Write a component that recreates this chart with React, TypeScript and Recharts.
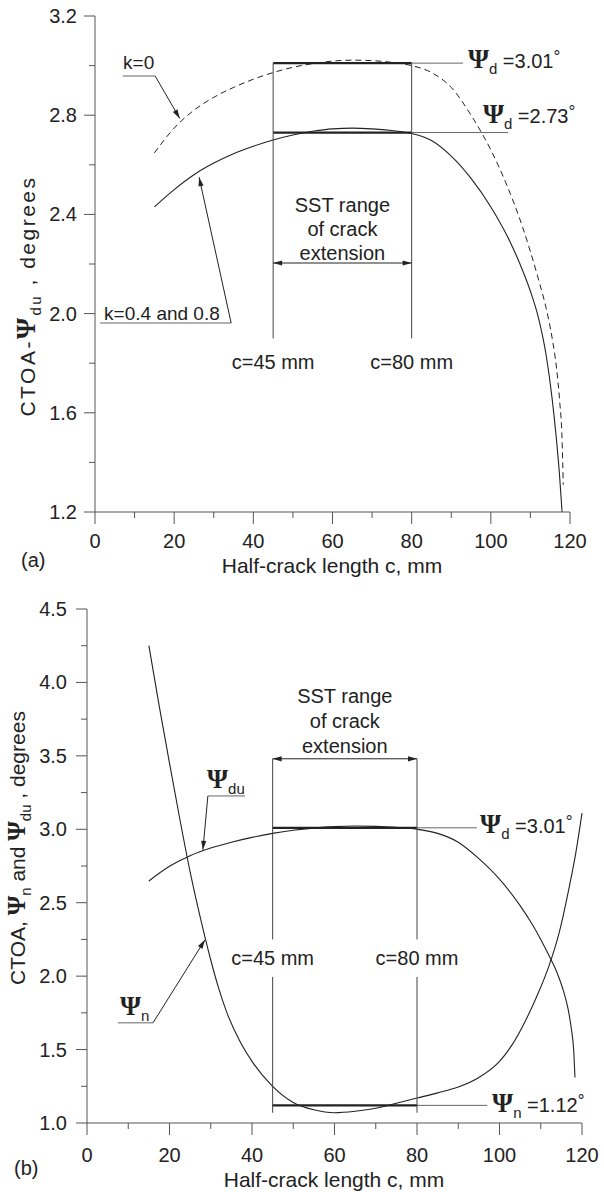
import React from "react";
import { LineChart, Line, XAxis, YAxis, ReferenceLine, ReferenceDot } from "recharts";

// ─── data ─────────────────────────────────────────────────────────────────────

// (a) k = 0.4 and 0.8 (solid)
const cK04 = [15, 20, 25, 30, 35, 40, 45, 50, 55, 60, 65, 70, 75, 80, 85, 90, 95, 100, 105, 108, 110, 112, 114, 115.5, 116.5, 117.3, 118];
const psiK04 = [2.43, 2.5, 2.56, 2.607, 2.645, 2.675, 2.7, 2.72, 2.735, 2.745, 2.748, 2.745, 2.738, 2.726, 2.698, 2.635, 2.545, 2.43, 2.285, 2.175, 2.09, 1.985, 1.83, 1.655, 1.505, 1.36, 1.2];

// k = 0 curve, also psi_du in (b)
const cDu = [15, 20, 25, 30, 35, 40, 45, 50, 55, 60, 65, 70, 75, 80, 85, 90, 95, 100, 105, 108, 110, 112, 114, 115.5, 116.6, 117.4, 118, 118.3];
const psiDu = [2.648, 2.748, 2.82, 2.872, 2.912, 2.945, 2.972, 2.993, 3.008, 3.018, 3.022, 3.02, 3.013, 3.0, 2.972, 2.912, 2.8, 2.66, 2.48, 2.35, 2.25, 2.14, 2.02, 1.9, 1.78, 1.645, 1.49, 1.31];

// (b) psi_n
const cN = [15, 17.5, 20, 22.5, 25, 27.5, 30, 32, 34, 37, 40, 45, 50, 55, 60, 65, 70, 75, 80, 85, 90, 95, 100, 103, 106, 109, 112, 114.5, 117, 118.5, 120];
const psiN = [4.25, 3.84, 3.45, 3.07, 2.71, 2.395, 2.11, 1.91, 1.745, 1.56, 1.42, 1.25, 1.14, 1.09, 1.07, 1.08, 1.1, 1.135, 1.17, 1.205, 1.245, 1.31, 1.42, 1.53, 1.68, 1.86, 2.07, 2.3, 2.62, 2.84, 3.11];

const xTicks = [0, 10, 20, 30, 40, 50, 60, 70, 80, 90, 100, 110, 120];
const xMajor = [0, 20, 40, 60, 80, 100, 120];
const yTicksA = [1.2, 1.4, 1.6, 1.8, 2.0, 2.2, 2.4, 2.6, 2.8, 3.0, 3.2];
const yMajorA = [1.2, 1.6, 2.0, 2.4, 2.8, 3.2];
const yTicksB = [1.0, 1.25, 1.5, 1.75, 2.0, 2.25, 2.5, 2.75, 3.0, 3.25, 3.5, 3.75, 4.0, 4.25, 4.5];
const yMajorB = [1.0, 1.5, 2.0, 2.5, 3.0, 3.5, 4.0, 4.5];

const rows = (cs: number[], vs: number[]) => cs.map((c, i) => ({ c, v: vs[i] }));

// ─── style ────────────────────────────────────────────────────────────────────

const FONT = '"Liberation Sans", Arial, sans-serif';
const PSI_FONT = '"Liberation Serif", "DejaVu Serif", serif';
const INK = "#222";
const FRAME = "#555";

// ─── ticks ────────────────────────────────────────────────────────────────────

const isIn = (list: number[], v: number) => list.some((m) => Math.abs(m - v) < 1e-6);

const bottomTick = (labelDy: number) => (p: any) => {
  const v = p.payload.value as number;
  const major = isIn(xMajor, v);
  return (
    <g>
      <line x1={p.x} x2={p.x} y1={p.y} y2={p.y + (major ? 12 : 6)} stroke={FRAME} />
      {major && (
        <text x={p.x} y={p.y + labelDy} textAnchor="middle" fontSize={20} fontFamily={FONT} fill={INK}>
          {v}
        </text>
      )}
    </g>
  );
};

const leftTick = (majors: number[], gap: number) => (p: any) => {
  const v = p.payload.value as number;
  const major = isIn(majors, v);
  return (
    <g>
      <line x1={p.x - (major ? 11 : 6)} x2={p.x} y1={p.y} y2={p.y} stroke={FRAME} />
      {major && (
        <text x={p.x - gap} y={p.y + 7} textAnchor="end" fontSize={20} fontFamily={FONT} fill={INK}>
          {v.toFixed(1)}
        </text>
      )}
    </g>
  );
};

const topTick = (p: any) => <line x1={p.x} x2={p.x} y1={p.y} y2={p.y - 3} stroke={FRAME} />;
const rightTick = (p: any) => <line x1={p.x} x2={p.x + 3} y1={p.y} y2={p.y} stroke={FRAME} />;

// ─── annotation helpers ──────────────────────────────────────────────────────

type Pt = [number, number];
type SegOpts = { w?: number; color?: string; arrow?: "end" | "both" };

function arrowHead(tx: number, ty: number, fx: number, fy: number, color: string) {
  const dx = tx - fx;
  const dy = ty - fy;
  const L = Math.hypot(dx, dy) || 1;
  const ux = dx / L;
  const uy = dy / L;
  const len = 9;
  const hw = 2.6;
  const bx = tx - ux * len;
  const by = ty - uy * len;
  return (
    <path
      d={`M${tx},${ty} L${bx - uy * hw},${by + ux * hw} L${bx + uy * hw},${by - ux * hw} Z`}
      fill={color}
    />
  );
}

function seg(key: string, a: Pt, b: Pt, o: SegOpts = {}) {
  const color = o.color ?? INK;
  return (
    <ReferenceLine
      key={key}
      segment={[
        { x: a[0], y: a[1] },
        { x: b[0], y: b[1] },
      ]}
      ifOverflow="visible"
      shape={(p: any) => (
        <g>
          <line x1={p.x1} y1={p.y1} x2={p.x2} y2={p.y2} stroke={color} strokeWidth={o.w ?? 1} />
          {o.arrow ? arrowHead(p.x2, p.y2, p.x1, p.y1, color) : null}
          {o.arrow === "both" ? arrowHead(p.x1, p.y1, p.x2, p.y2, color) : null}
        </g>
      )}
    />
  );
}

function note(key: string, at: Pt, render: (x: number, y: number) => React.ReactElement) {
  return (
    <ReferenceDot
      key={key}
      x={at[0]}
      y={at[1]}
      r={0}
      ifOverflow="visible"
      shape={(p: any) => render(p.cx, p.cy)}
    />
  );
}

function Psi({ x, y, sub, value }: { x: number; y: number; sub: string; value?: string }) {
  return (
    <text x={x} y={y} fontFamily={FONT} fontSize={20} fill={INK}>
      <tspan fontFamily={PSI_FONT} fontWeight="bold" fontSize={27}>
        Ψ
      </tspan>
      <tspan fontSize={15} dy={6}>
        {sub}
      </tspan>
      {value ? <tspan dy={-6}>{` =${value}`}</tspan> : null}
      {value ? (
        <tspan fontSize={17} dy={-6}>
          °
        </tspan>
      ) : null}
    </text>
  );
}

const plain = (text: string, size = 20, anchor: "start" | "middle" = "middle") => (x: number, y: number) => (
  <text x={x} y={y} textAnchor={anchor} fontSize={size} fontFamily={FONT} fill={INK}>
    {text}
  </text>
);

const sst = (gap: number) => (x: number, y: number) => (
  <text x={x} y={y} textAnchor="middle" fontSize={20} fontFamily={FONT} fill={INK}>
    <tspan x={x}>SST range</tspan>
    <tspan x={x} dy={gap}>
      of crack
    </tspan>
    <tspan x={x} dy={gap}>
      extension
    </tspan>
  </text>
);

// ─── axis titles ──────────────────────────────────────────────────────────────

function XTitle({ cx, base, tag, tagX, tagBase }: { cx: number; base: number; tag: string; tagX: number; tagBase: number }) {
  return (
    <g>
      <text x={cx} y={base} textAnchor="middle" fontSize={21} fontFamily={FONT} fill={INK}>
        Half-crack length c, mm
      </text>
      <text x={tagX} y={tagBase} fontSize={20} fontFamily={FONT} fill={INK}>
        {tag}
      </text>
    </g>
  );
}

function YTitleA() {
  const x = 35;
  const y = 296;
  return (
    <text
      x={x}
      y={y}
      transform={`rotate(-90 ${x} ${y})`}
      textAnchor="middle"
      fontSize={21}
      fontFamily={FONT}
      fill={INK}
      letterSpacing={2.5}
    >
      CTOA-
      <tspan fontFamily={PSI_FONT} fontWeight="bold" fontSize={27}>
        Ψ
      </tspan>
      <tspan fontSize={15} dy={6}>
        du
      </tspan>
      <tspan dy={-6}> , degrees</tspan>
    </text>
  );
}

function YTitleB() {
  const x = 25;
  const y = 258;
  return (
    <text x={x} y={y} transform={`rotate(-90 ${x} ${y})`} textAnchor="middle" fontSize={21} fontFamily={FONT} fill={INK}>
      CTOA,{" "}
      <tspan fontFamily={PSI_FONT} fontWeight="bold" fontSize={25}>
        Ψ
      </tspan>
      <tspan fontSize={15} dy={6}>
        n
      </tspan>
      <tspan dy={-6}> and </tspan>
      <tspan fontFamily={PSI_FONT} fontWeight="bold" fontSize={25}>
        Ψ
      </tspan>
      <tspan fontSize={15} dy={6}>
        du
      </tspan>
      <tspan dy={-6}> , degrees</tspan>
    </text>
  );
}

// ─── annotations ──────────────────────────────────────────────────────────────

const notesA = [
  seg("a-d301", [45, 3.01], [80, 3.01], { w: 2.2 }),
  seg("a-d301x", [80, 3.01], [93, 3.01], { color: "#666" }),
  seg("a-d273", [45, 2.73], [80, 2.73], { w: 2.2 }),
  seg("a-d273x", [80, 2.73], [104.4, 2.73], { color: "#666" }),
  seg("a-v45", [45, 3.01], [45, 1.9], { color: "#444" }),
  seg("a-v80", [80, 3.01], [80, 1.9], { color: "#444" }),
  seg("a-range", [45, 2.204], [80, 2.204], { arrow: "both" }),
  seg("a-k0u", [7.0, 2.958], [15.2, 2.958], { color: "#666" }),
  seg("a-k0l", [15.2, 2.958], [21.4, 2.787], { arrow: "end" }),
  seg("a-k4u", [1.3, 1.962], [34.4, 1.962], { color: "#666" }),
  seg("a-k4l", [34.4, 1.962], [26.3, 2.55], { arrow: "end" }),
  note("a-k0", [7.1, 2.986], plain("k=0", 19, "start")),
  note("a-k4", [2.3, 1.974], plain("k=0.4 and 0.8", 19, "start")),
  note("a-sst", [62.5, 2.41], sst(24)),
  note("a-c45", [45, 1.777], plain("c=45 mm")),
  note("a-c80", [80, 1.777], plain("c=80 mm")),
  note("a-p301", [94.2, 2.99], (x, y) => <Psi x={x} y={y} sub="d" value="3.01" />),
  note("a-p273", [98, 2.769], (x, y) => <Psi x={x} y={y} sub="d" value="2.73" />),
];

const notesB = [
  seg("b-d301", [45, 3.01], [80, 3.01], { w: 2.2 }),
  seg("b-d301x", [80, 3.01], [94.5, 3.01], { color: "#666" }),
  seg("b-n112", [45, 1.12], [80, 1.12], { w: 2.2 }),
  seg("b-n112x", [80, 1.12], [97, 1.12], { color: "#666" }),
  seg("b-v45a", [45, 3.48], [45, 2.25], { color: "#444" }),
  seg("b-v45b", [45, 1.995], [45, 1.07], { color: "#444" }),
  seg("b-v80a", [80, 3.48], [80, 2.25], { color: "#444" }),
  seg("b-v80b", [80, 1.995], [80, 1.07], { color: "#444" }),
  seg("b-range", [45, 3.48], [80, 3.48], { arrow: "both" }),
  seg("b-duu", [29.3, 3.227], [38.3, 3.227], { color: "#666" }),
  seg("b-dul", [29.3, 3.227], [28.1, 2.86], { arrow: "end" }),
  seg("b-nu", [7.5, 1.682], [16.0, 1.682], { color: "#666" }),
  seg("b-nl", [16.0, 1.682], [28.6, 2.247], { arrow: "end" }),
  note("b-sst", [62.5, 3.86], sst(25)),
  note("b-c45", [45, 2.077], plain("c=45 mm")),
  note("b-c80", [80, 2.077], plain("c=80 mm")),
  note("b-p301", [95.3, 2.975], (x, y) => <Psi x={x} y={y} sub="d" value="3.01" />),
  note("b-p112", [98.2, 1.076], (x, y) => <Psi x={x} y={y} sub="n" value="1.12" />),
  note("b-pdu", [29.1, 3.282], (x, y) => <Psi x={x} y={y} sub="du" />),
  note("b-pn", [8.0, 1.736], (x, y) => <Psi x={x} y={y} sub="n" />),
];

// ─── main component ───────────────────────────────────────────────────────────

export default function App() {
  const axisCommon = {
    tickSize: 0,
    tickMargin: 0,
    tickLine: false,
    interval: 0 as const,
    axisLine: { stroke: FRAME },
  };

  return (
    <div style={{ position: "absolute", left: 0, top: 0, width: 604, height: 1192, background: "#fff" }}>
      {/* ── (a) ── */}
      <LineChart width={604} height={590} margin={{ top: 16, right: 34, left: 0, bottom: 0 }}>
        <XAxis
          type="number"
          dataKey="c"
          domain={[0, 120]}
          ticks={xTicks}
          height={78}
          tick={bottomTick(36)}
          label={<XTitle cx={332} base={573} tag="(a)" tagX={21} tagBase={567} />}
          {...axisCommon}
        />
        <XAxis xAxisId="top" orientation="top" type="number" domain={[0, 120]} ticks={xTicks} height={0} tick={topTick} {...axisCommon} />
        <YAxis
          type="number"
          domain={[1.2, 3.2]}
          ticks={yTicksA}
          width={95}
          tick={leftTick(yMajorA, 18)}
          label={<YTitleA />}
          {...axisCommon}
        />
        <YAxis yAxisId="right" orientation="right" type="number" domain={[1.2, 3.2]} ticks={yTicksA} width={0} tick={rightTick} {...axisCommon} />
        <Line data={rows(cDu, psiDu)} dataKey="v" type="monotone" stroke={INK} strokeWidth={1} strokeDasharray="6 4" dot={false} activeDot={false} isAnimationActive={false} />
        <Line data={rows(cK04, psiK04)} dataKey="v" type="monotone" stroke={INK} strokeWidth={1.1} dot={false} activeDot={false} isAnimationActive={false} />
        {notesA}
      </LineChart>

      {/* ── (b) ── */}
      <LineChart width={604} height={602} margin={{ top: 19, right: 22, left: 0, bottom: 0 }}>
        <XAxis
          type="number"
          dataKey="c"
          domain={[0, 120]}
          ticks={xTicks}
          height={69}
          tick={bottomTick(39)}
          label={<XTitle cx={334} base={597} tag="(b)" tagX={14} tagBase={585} />}
          {...axisCommon}
        />
        <XAxis xAxisId="top" orientation="top" type="number" domain={[0, 120]} ticks={xTicks} height={0} tick={topTick} {...axisCommon} />
        <YAxis
          type="number"
          domain={[1.0, 4.5]}
          ticks={yTicksB}
          width={87}
          tick={leftTick(yMajorB, 20)}
          label={<YTitleB />}
          {...axisCommon}
        />
        <YAxis yAxisId="right" orientation="right" type="number" domain={[1.0, 4.5]} ticks={yTicksB} width={0} tick={rightTick} {...axisCommon} />
        <Line data={rows(cDu, psiDu)} dataKey="v" type="monotone" stroke={INK} strokeWidth={1.1} dot={false} activeDot={false} isAnimationActive={false} />
        <Line data={rows(cN, psiN)} dataKey="v" type="monotone" stroke={INK} strokeWidth={1.1} dot={false} activeDot={false} isAnimationActive={false} />
        {notesB}
      </LineChart>
    </div>
  );
}
